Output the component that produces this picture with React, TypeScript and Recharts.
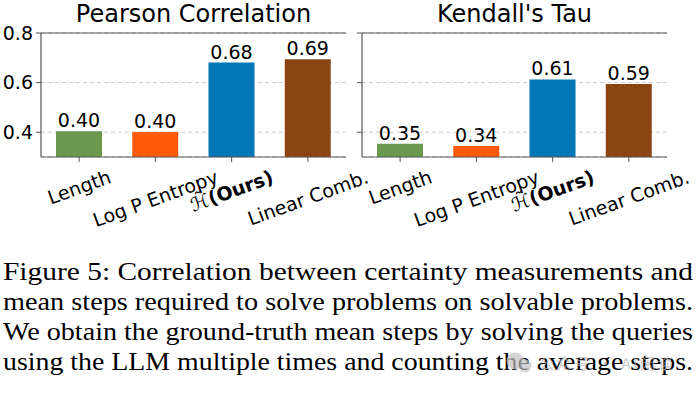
import { BarChart, Bar, XAxis, YAxis, CartesianGrid, Cell, LabelList, ReferenceLine } from 'recharts';

const categories = ['Length', 'Log P Entropy', 'H(Ours)', 'Linear Comb.'];
const pearsonValues = [0.404, 0.401, 0.681, 0.694];
const kendallValues = [0.353, 0.344, 0.613, 0.594];
const barColors = ['#6a994e', '#ff5a0a', '#0077b6', '#8b4513'];
const yTicks = [0.4, 0.6, 0.8];
const panelTitles = ['Pearson Correlation', "Kendall's Tau"];
const captionLines = [
    'Figure 5: Correlation between certainty measurements and',
    'mean steps required to solve problems on solvable problems.',
    'We obtain the ground-truth mean steps by solving the queries',
    'using the LLM multiple times and counting the average steps.',
];

const FONT = '"DejaVu Sans", sans-serif';
const SERIF = '"Liberation Serif", "Times New Roman", serif';
const AXIS = '#555';

let ctx: CanvasRenderingContext2D | null = null;
function measure(s: string, font: string) {
    if (!ctx) ctx = document.createElement('canvas').getContext('2d');
    ctx!.font = font;
    return ctx!.measureText(s).width;
}

const ANGLE = 20;
function CategoryTick(props: any) {
    const { x, y, payload } = props;
    const name = payload.value;
    const ours = name === 'H(Ours)';
    const w = ours
        ? measure('\u210B', `italic 19px ${FONT}`) + measure('(Ours)', `bold 19px ${FONT}`)
        : measure(name, `19px ${FONT}`);
    const h = 19 * 1.1;
    const rad = (ANGLE * Math.PI) / 180;
    const bh = w * Math.sin(rad) + h * Math.cos(rad);
    const cx = x;
    const cy = y + bh / 2;
    return (
        <text x={cx} y={cy} textAnchor="middle" dominantBaseline="central"
            transform={`rotate(-${ANGLE} ${cx} ${cy})`}
            fontFamily={FONT} fontSize={19} fill="#000">
            {ours ? (
                <>
                    <tspan fontStyle="italic">{'\u210B\u0303'}</tspan>
                    <tspan fontWeight="bold">(Ours)</tspan>
                </>
            ) : name}
        </text>
    );
}

function Panel({ values, showLabels }: { values: number[]; showLabels: boolean }) {
    const rows = categories.map((name, i) => ({ name, value: values[i] }));
    return (
        <BarChart width={360} height={240} data={rows}
            margin={{ top: 33, right: 14, bottom: 0, left: 0 }}>
            <CartesianGrid vertical={false} stroke="#cccccc" strokeDasharray="4 3" />
            <XAxis dataKey="name" height={83} interval={0} tick={<CategoryTick />}
                tickSize={5} tickMargin={4} axisLine={{ stroke: AXIS, strokeWidth: 1.2 }}
                tickLine={{ stroke: AXIS }} />
            <YAxis type="number" domain={[0.3, 0.8]} ticks={yTicks} width={41}
                allowDataOverflow tickSize={5} tickMargin={3}
                axisLine={{ stroke: AXIS, strokeWidth: 1.2 }} tickLine={{ stroke: AXIS }}
                tick={showLabels
                    ? { fontSize: 19, fill: '#000', fontFamily: FONT }
                    : () => <g />}
                tickFormatter={(v: number) => v.toFixed(1)} />
            <YAxis yAxisId="frame" orientation="right" width={0} domain={[0.3, 0.8]}
                tick={false} tickLine={false} axisLine={{ stroke: AXIS, strokeWidth: 1.2 }} />
            <ReferenceLine y={0.8} stroke={AXIS} strokeWidth={1.2} />
            <Bar dataKey="value" barSize={46} isAnimationActive={false}>
                {rows.map((r, i) => <Cell key={r.name} fill={barColors[i]} />)}
                <LabelList dataKey="value" position="top" offset={4}
                    formatter={(v: any) => Number(v).toFixed(2)}
                    fontSize={19} fill="#000" fontFamily={FONT} />
            </Bar>
        </BarChart>
    );
}

function Caption() {
    const baselines = [280, 310, 340, 370];
    return (
        <>
            {captionLines.map((line, li) => (
                <text key={li} x={3} y={baselines[li]} fontFamily={SERIF} fontSize={26}
                    fill="#000" textLength={690} lengthAdjust="spacingAndGlyphs">{line}</text>
            ))}
        </>
    );
}

export default function App() {
    return (
        <div style={{ position: 'absolute', left: 0, top: 0, width: 696, height: 393, background: '#fff', overflow: 'hidden' }}>
            <style>{'.recharts-surface{overflow:visible}'}</style>
            <div style={{ position: 'absolute', left: 0, top: 0 }}>
                <Panel values={pearsonValues} showLabels />
            </div>
            <div style={{ position: 'absolute', left: 321, top: 0 }}>
                <Panel values={kendallValues} showLabels={false} />
            </div>
            <svg width={696} height={393} style={{ position: 'absolute', left: 0, top: 0, pointerEvents: 'none' }}>
                <text x={193.5} y={22} textAnchor="middle" fontFamily={FONT} fontSize={24} fill="#000">{panelTitles[0]}</text>
                <text x={514.5} y={22} textAnchor="middle" fontFamily={FONT} fontSize={24} fill="#000">{panelTitles[1]}</text>
                <Caption />
                <g opacity={0.7}>
                    <circle cx={515} cy={361} r={8.5} fill="#c4c4c4" />
                    <circle cx={525} cy={366} r={6.5} fill="#c4c4c4" />
                    <text x={539} y={369} fontFamily='"Noto Sans CJK SC", sans-serif' fontSize={15}
                        fill="#b4b4b4" textLength={134} lengthAdjust="spacing">公众号 · AI闲谈</text>
                </g>
            </svg>
        </div>
    );
}
